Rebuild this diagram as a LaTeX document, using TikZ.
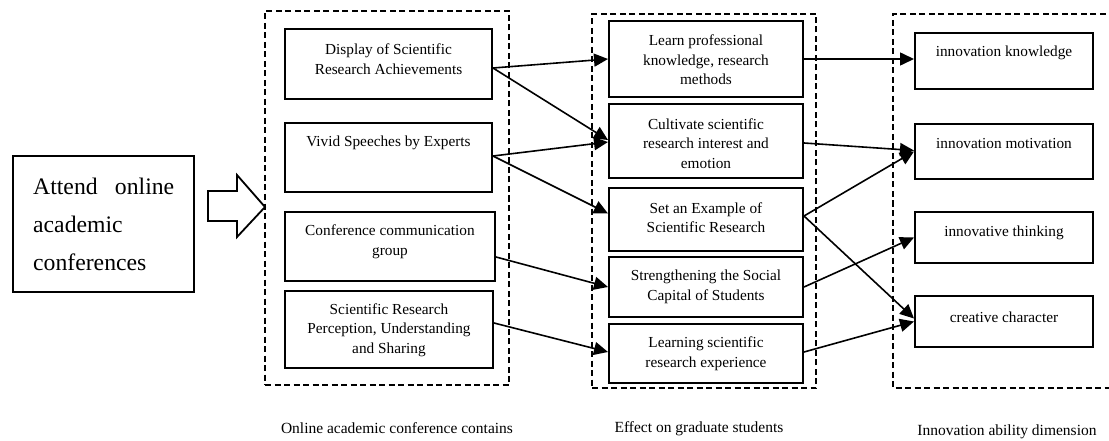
\documentclass[tikz,border=0pt]{standalone}
\usepackage{fontspec}
\setmainfont{Liberation Serif}
\usetikzlibrary{arrows.meta,fit}
\tikzset{
  box/.style={draw, line width=2pt, inner sep=0pt, rectangle},
  grp/.style={draw, line width=1.8pt, dash pattern=on 6pt off 3.5pt, inner sep=0pt},
  txt/.style={align=center, inner sep=0pt, font=\fontsize{15.3}{19.5}\selectfont},
  captxt/.style={inner sep=0pt, font=\fontsize{15.5}{19.5}\selectfont},
  conn/.style={line width=1.6pt, -{Triangle[length=14pt,width=13pt]}},
}
\begin{document}
\begin{tikzpicture}[x=1pt,y=-1pt]
\useasboundingbox (0,0) rectangle (1109,441);

% left box
\node[box, fit={(13,156) (194,292)}] (att) {};
\node[inner sep=0pt, anchor=north west, font=\fontsize{23.7}{38}\selectfont, align=left] (attt) at (33,178)
  {\makebox[141pt][s]{Attend online}\\academic\\conferences};

% hollow arrow
\draw[line width=1.8pt, line join=miter] (208,191) -- (237,191) -- (237,175) -- (265,207) -- (237,237) -- (237,221) -- (208,221) -- cycle;

% dashed groups
\node[grp, fit={(265,11) (509,385)}] (g1) {};
\node[grp, fit={(592,14) (816,388)}] (g2) {};
\draw[grp] (1115,14) -- (893,14) -- (893,388) -- (1115,388);

% column A
\node[box, fit={(285,29) (492,99)}] (a1) {};
\node[txt] (a1t) at (388.5,59) {Display of Scientific\\Research Achievements};
\node[box, fit={(285,123) (492,192)}] (a2) {};
\node[txt] (a2t) at (388.5,143) {Vivid Speeches by Experts};
\node[box, fit={(285,212) (495,281)}] (a3) {};
\node[txt] (a3t) at (390,242) {Conference communication\\group};
\node[box, fit={(285,291) (493,368)}] (a4) {};
\node[txt] (a4t) at (389,330) {Scientific Research\\Perception, Understanding\\and Sharing};

% column B
\node[box, fit={(609,21) (803,97)}] (b1) {};
\node[txt] (b1t) at (706,60) {Learn professional\\knowledge, research\\methods};
\node[box, fit={(609,104) (803,178)}] (b2) {};
\node[txt] (b2t) at (706,143.5) {Cultivate scientific\\research interest and\\emotion};
\node[box, fit={(609,188) (803,251)}] (b3) {};
\node[txt] (b3t) at (706,217.5) {Set an Example of\\Scientific Research};
\node[box, fit={(609,257) (803,317)}] (b4) {};
\node[txt] (b4t) at (706,287) {Strengthening the Social\\Capital of Students};
\node[box, fit={(609,324) (803,383)}] (b5) {};
\node[txt] (b5t) at (706,353.5) {Learning scientific\\research experience};

% column C
\node[box, fit={(915,33) (1093,89)}] (c1) {};
\node[txt] (c1t) at (1004,53) {innovation knowledge};
\node[box, fit={(915,124) (1093,179)}] (c2) {};
\node[txt] (c2t) at (1004,144) {innovation motivation};
\node[box, fit={(915,212) (1093,263)}] (c3) {};
\node[txt] (c3t) at (1004,233) {innovative thinking};
\node[box, fit={(915,296) (1093,347)}] (c4) {};
\node[txt] (c4t) at (1004,317) {creative character};

% captions
\node[captxt] (l1) at (397,428) {Online academic conference contains};
\node[captxt] (l2) at (699,429) {Effect on graduate students};
\node[captxt] (l3) at (1007,432) {Innovation ability dimension};

% connectors A -> B
\draw[conn] ([yshift=-4pt]a1.east) -- (b1.west);
\draw[conn] ([yshift=-4pt]a1.east) -- ([yshift=1pt]b2.west);
\draw[conn] ([yshift=1.5pt]a2.east) -- ([yshift=-1pt]b2.west);
\draw[conn] ([yshift=1.5pt]a2.east) -- ([yshift=6pt]b3.west);
\draw[conn] ([yshift=-10.5pt]a3.east) -- (b4.west);
\draw[conn] ([yshift=6.5pt]a4.east) -- ([yshift=1.5pt]b5.west);

% connectors B -> C
\draw[conn] (b1.east) -- ([yshift=2pt]c1.west);
\draw[conn] ([yshift=-2pt]b2.east) -- ([yshift=1pt]c2.west);
\draw[conn] ([yshift=3.5pt]b3.east) -- ([yshift=0pt]c2.west);
\draw[conn] ([yshift=3.5pt]b3.east) -- ([yshift=3pt]c4.west);
\draw[conn] (b4.east) -- (c3.west);
\draw[conn] ([yshift=1.5pt]b5.east) -- ([yshift=0pt]c4.west);
\end{tikzpicture}
\end{document}
